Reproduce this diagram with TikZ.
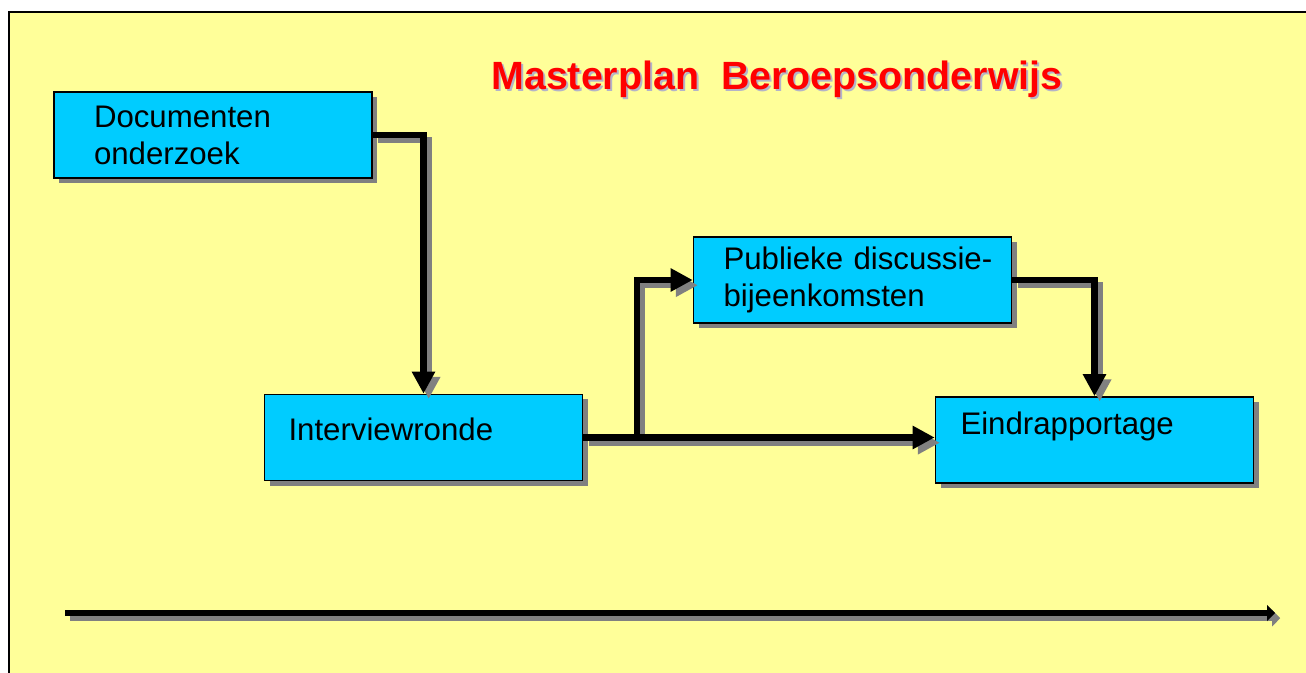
\documentclass[tikz,border=0pt]{standalone}
\usepackage{fontspec}
\setmainfont{Liberation Sans}
\usetikzlibrary{arrows.meta,shadows}

\definecolor{slidebg}{HTML}{FFFF99}
\definecolor{boxfill}{HTML}{00CCFF}
\definecolor{shadowgray}{HTML}{808080}
\definecolor{titleshadow}{HTML}{B4B4C8}

\tikzset{
  phase/.style={draw=black,line width=0.8pt,fill=boxfill,
    minimum width=159pt,minimum height=43pt,align=left,
    font=\fontsize{15.6}{18.5}\selectfont,
    drop shadow={shadow xshift=2.5pt,shadow yshift=-2.5pt,fill=shadowgray,opacity=1}},
  flow/.style={line width=3.2pt,-{Triangle[length=11pt,width=11pt]},
    preaction={draw=shadowgray,line width=3.2pt,transform canvas={shift={(2.6pt,-2.6pt)}}}},
  timeline/.style={line width=3.2pt,-{Triangle[length=4pt,width=8pt]},
    preaction={draw=shadowgray,line width=3.2pt,transform canvas={shift={(2.6pt,-2.6pt)}}}}
}

\begin{document}
\begin{tikzpicture}[x=0.5pt,y=-0.5pt]
    \useasboundingbox (0,0) rectangle (1306,673);
    % slide background
    \draw[fill=slidebg,line width=0.8pt] (9,12) rectangle (1320,690);

    % title
    \node[text=titleshadow,font=\fontsize{19.7}{23}\bfseries] at (779,81) {Masterplan\ \ Beroepsonderwijs};
    \node[text=red,font=\fontsize{19.7}{23}\bfseries] (title) at (777,79) {Masterplan\ \ Beroepsonderwijs};

    % phases
    \node[phase,inner xsep=20pt,text width=119pt] (doc) at (213,135) {Documenten\\onderzoek};
    \node[phase,inner xsep=12pt,text width=135pt,text depth=8pt] (inter) at (423.5,437.5) {Interviewronde};
    \node[phase,inner xsep=15pt,text width=129pt] (pub) at (852.5,280) {\mbox{Publieke discussie-}\\bijeenkomsten};
    \node[phase,inner xsep=12.5pt,text width=134pt,text depth=17pt] (eind) at (1094.5,440) {Eindrapportage};

    % connectors
    \coordinate (split) at (637,437);
    \draw[flow] (doc.east) -| (inter.north);
    \draw[flow] (split) |- (pub.west);
    \draw[flow] (inter.east) -- (inter.east -| eind.west);
    \draw[flow] (pub.east) -| (eind.north);

    % time axis
    \coordinate (tstart) at (65,613);
    \coordinate (tend) at (1275,613);
    \draw[timeline] (tstart) -- (tend);
\end{tikzpicture}
\end{document}
